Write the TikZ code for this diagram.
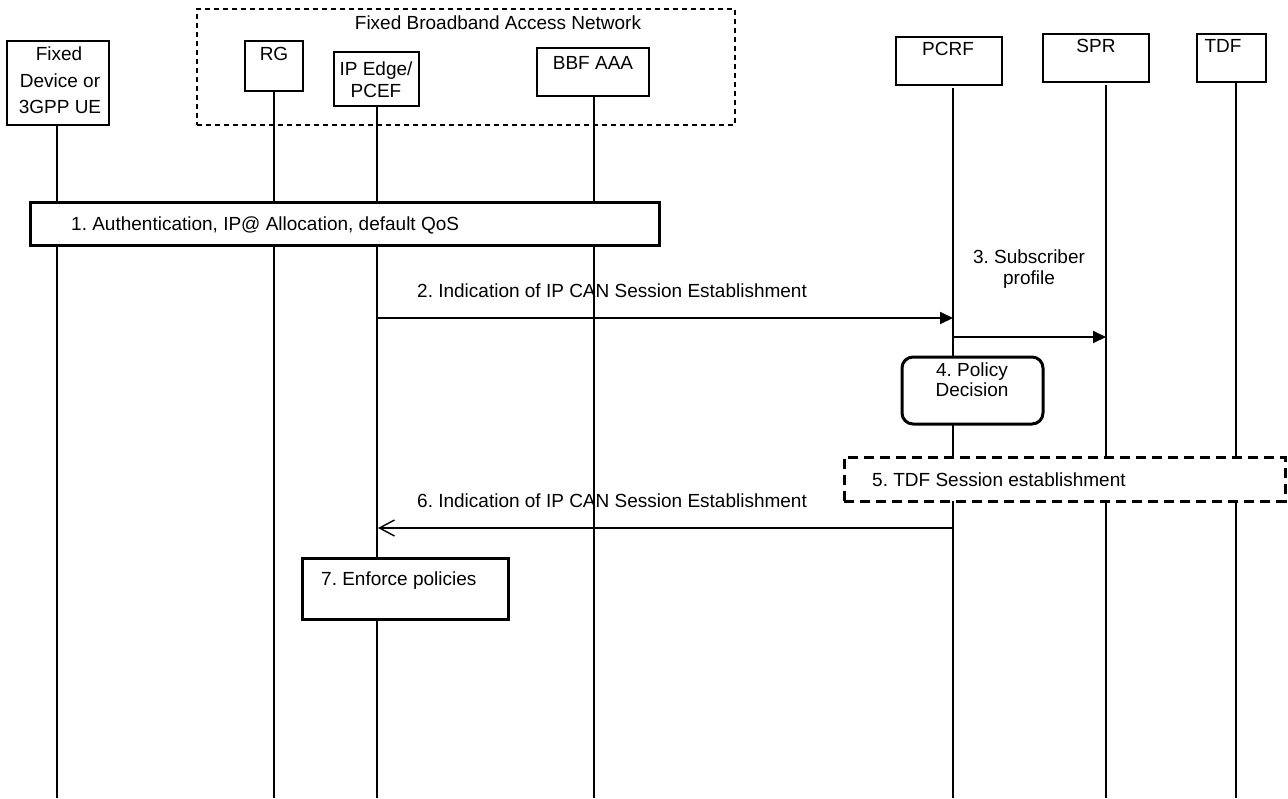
\documentclass[tikz,border=0pt]{standalone}
\usepackage{fontspec}
\setmainfont{Liberation Sans}
\usetikzlibrary{arrows.meta,fit}
\frenchspacing
\begin{document}
\frenchspacing
\begin{tikzpicture}[x=1pt,y=-1pt,
  txt/.style={font=\fontsize{19}{23}\selectfont\frenchspacing, inner sep=0pt, anchor=base},
  ltxt/.style={txt, anchor=base west},
  hbox/.style={draw, line width=1.2pt, inner sep=0pt},
  grpbox/.style={draw, line width=1.2pt, inner sep=0pt, dash pattern=on 5pt off 4pt},
  thickbox/.style={draw, line width=3pt, fill=white, inner sep=0pt},
  roundbox/.style={thickbox, rounded corners=11pt},
  dashbox/.style={thickbox, dash pattern=on 10pt off 6pt},
  life/.style={line width=1.1pt},
  msg/.style={line width=1.8pt, -{Triangle[length=13pt,width=12pt]}},
  reply/.style={line width=1.2pt, -{Straight Barb[length=15pt,width=16pt,line width=1.4pt]}}
]
\useasboundingbox (0,0) rectangle (1288,798);

% group box
\node[grpbox, fit={(197,9) (735,125)}] (fban) {};
\node[txt] (fbant) at (498,29) {Fixed Broadband Access Network};

% header boxes
\node[hbox, fit={(7,41) (109,125)}] (fixed) {};
\node[hbox, fit={(245,41) (303,91)}] (rg) {};
\node[hbox, fit={(334,52) (419,106)}] (ipe) {};
\node[hbox, fit={(537,48) (649,96)}] (bbf) {};
\node[hbox, fit={(896,37) (1002,85)}] (pcrf) {};
\node[hbox, fit={(1043,34) (1149,82)}] (spr) {};
\node[hbox, fit={(1197,34) (1266,82)}] (tdf) {};

\node[txt] (fixedt1) at (59,60) {Fixed};
\node[txt] (fixedt2) at (60,87) {Device or};
\node[txt] (fixedt3) at (60,113) {3GPP UE};
\node[txt] (rgt) at (274,60) {RG};
\node[txt] (ipet1) at (376,75) {IP Edge/};
\node[txt] (ipet2) at (376,97) {PCEF};
\node[txt] (bbft) at (593,69) {BBF AAA};
\node[txt] (pcrft) at (948,55) {PCRF};
\node[txt] (sprt) at (1096,52) {SPR};
\node[txt] (tdft) at (1223,52) {TDF};

% lifelines
\coordinate (Lfix) at (57,125);   \coordinate (Efix) at (57,798);
\coordinate (Lrg) at (274,91);    \coordinate (Erg) at (274,798);
\coordinate (Lipe) at (377,106);  \coordinate (Eipe) at (377,798);
\coordinate (Lbbf) at (594,96);   \coordinate (Ebbf) at (594,798);
\coordinate (Lpcrf) at (953,88);  \coordinate (Epcrf) at (953,798);
\coordinate (Lspr) at (1106,85);  \coordinate (Espr) at (1106,798);
\coordinate (Ltdf) at (1236,82);  \coordinate (Etdf) at (1236,798);
\foreach \l in {fix,rg,ipe,bbf,pcrf,spr,tdf}{
  \draw[life] (L\l) -- (E\l);
}

% step 1
\node[thickbox, fit={(30,202) (659,245)}] (s1) {};
\node[ltxt] (s1t) at (71,230) {1. Authentication, IP@ Allocation, default QoS};

% step 2
\coordinate (m2s) at (377,318);
\coordinate (m2e) at (953,318);
\draw[msg] (m2s) -- (m2e);
\node[ltxt] (m2t) at (417,297) {2. Indication of IP CAN Session Establishment};

% step 3
\coordinate (m3s) at (953,337);
\coordinate (m3e) at (1106,337);
\draw[msg] (m3s) -- (m3e);
\node[txt] (m3t1) at (1029,263) {3. Subscriber};
\node[txt] (m3t2) at (1029,284) {profile};

% step 4
\node[roundbox, fit={(902,357) (1043,424)}] (s4) {};
\node[txt] (s4t1) at (972,376) {4. Policy};
\node[txt] (s4t2) at (972,396) {Decision};

% step 5
\node[dashbox, fit={(844,457) (1285,501)}] (s5) {};
\node[ltxt] (s5t) at (872,486) {5. TDF Session establishment};

% step 6
\coordinate (m6s) at (953,528);
\coordinate (m6e) at (378,528);
\draw[reply] (m6s) -- (m6e);
\node[ltxt] (m6t) at (417,507) {6. Indication of IP CAN Session Establishment};

% step 7
\node[thickbox, fit={(302,558) (508,619)}] (s7) {};
\node[ltxt] (s7t) at (321,585) {7. Enforce policies};
\end{tikzpicture}
\end{document}
